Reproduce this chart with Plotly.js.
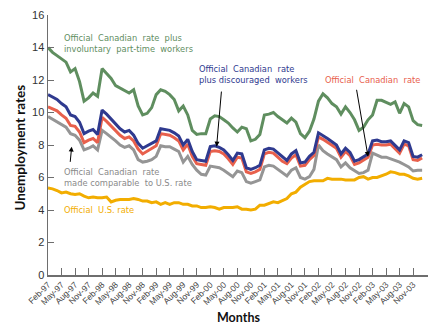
<!DOCTYPE html>
<html><head><meta charset="utf-8">
<script src="https://cdn.plot.ly/plotly-3.0.1.min.js"></script>
<style>html,body{margin:0;padding:0;background:#fff}#chart{width:436px;height:332px}</style>
</head><body><div id="chart"></div>
<script>
// Monthly categories Feb-97 .. Jan-04
var monNames = ["Jan","Feb","Mar","Apr","May","Jun","Jul","Aug","Sep","Oct","Nov","Dec"];
var months = [];
for (var k = 0; k < 84; k++) {
  var m = (1 + k) % 12, y = 97 + Math.floor((1 + k) / 12);
  months.push(monNames[m] + "-" + String(y % 100).padStart(2, "0"));
}
var tickLabels = ["Feb-97","May-97","Aug-97","Nov-97","Feb-98","May-98","Aug-98","Nov-98",
  "Feb-99","May-99","Aug-99","Nov-99","Feb-00","May-00","Aug-00","Nov-00",
  "Feb-01","May-01","Aug-01","Nov-01","Feb-02","May-02","Aug-02","Nov-02",
  "Feb-03","May-03","Aug-03","Nov-03"];

var involuntary = [14.0,13.7,13.5,13.3,13.1,12.5,12.7,11.9,10.7,10.9,11.2,11.0,
  12.7,12.4,12.1,11.65,11.5,11.4,11.2,11.4,10.4,9.85,9.95,10.3,
  11.1,11.4,11.3,11.1,10.8,10.1,10.4,9.85,8.9,8.65,8.7,8.7,
  9.6,9.8,9.75,9.55,9.35,9.05,8.8,9.1,9.0,8.25,8.35,8.65,
  9.85,9.9,10.0,9.75,9.55,9.35,9.65,9.4,8.7,8.45,8.85,9.6,
  10.7,11.15,10.9,10.55,10.35,9.9,10.35,10.0,9.55,8.9,9.1,9.55,
  9.85,10.75,10.75,10.6,10.5,10.65,9.95,10.55,10.35,9.5,9.25,9.2];

var discouraged = [11.1,10.95,10.8,10.55,10.35,9.85,9.75,9.4,8.7,8.85,8.95,8.65,
  10.15,9.9,9.6,9.3,9.0,8.8,8.9,8.6,8.1,7.8,7.95,8.1,
  8.25,9.0,8.95,8.9,8.75,8.55,8.0,8.35,7.6,7.1,7.05,7.0,
  7.9,7.95,7.85,7.7,7.4,7.05,7.5,7.45,6.6,6.5,6.6,6.75,
  7.7,7.8,7.75,7.5,7.25,7.05,7.45,7.65,6.9,6.95,7.3,7.55,
  8.75,8.6,8.4,8.2,8.0,7.45,7.8,7.55,7.0,7.1,7.3,7.45,
  8.25,8.3,8.2,8.2,8.25,8.0,7.7,8.25,8.15,7.3,7.25,7.4];

var official = [10.35,10.2,10.1,9.85,9.65,9.2,9.15,8.8,8.15,8.3,8.4,8.15,
  9.7,9.45,9.15,8.9,8.6,8.4,8.5,8.25,7.75,7.45,7.6,7.75,
  7.95,8.7,8.65,8.6,8.45,8.25,7.7,8.05,7.3,6.85,6.8,6.75,
  7.6,7.65,7.6,7.45,7.15,6.8,7.25,7.2,6.35,6.25,6.35,6.5,
  7.45,7.55,7.5,7.25,7.0,6.85,7.2,7.4,6.7,6.75,7.1,7.35,
  8.5,8.35,8.15,7.95,7.8,7.25,7.6,7.35,6.8,6.9,7.1,7.25,
  8.0,8.05,8.0,8.0,8.05,7.8,7.5,8.05,7.95,7.1,7.05,7.2];

var comparable = [9.75,9.6,9.45,9.3,9.1,8.7,8.6,8.3,7.7,7.8,7.95,7.7,
  8.9,8.7,8.5,8.25,8.0,7.85,7.95,7.7,7.1,6.95,7.0,7.1,
  7.3,7.95,7.9,7.9,7.75,7.6,6.95,7.3,6.8,6.45,6.2,6.15,
  6.7,6.65,6.6,6.45,6.25,6.05,6.4,6.3,5.75,5.65,5.75,5.85,
  6.65,6.75,6.7,6.5,6.25,6.1,6.45,6.6,6.0,5.9,6.05,6.5,
  8.0,7.65,7.45,7.3,7.1,6.65,6.9,6.6,6.4,6.25,6.3,6.45,
  7.5,7.35,7.25,7.25,7.15,7.05,6.95,6.8,6.65,6.4,6.45,6.45];

var usRate = [5.35,5.3,5.2,5.05,5.1,5.0,4.95,5.0,4.85,4.75,4.8,
  4.75,4.75,4.8,4.5,4.6,4.65,4.65,4.65,4.7,4.65,4.55,4.55,
  4.45,4.5,4.35,4.45,4.35,4.45,4.45,4.35,4.35,4.25,4.25,4.15,
  4.15,4.2,4.15,4.05,4.15,4.15,4.15,4.2,4.05,4.05,4.0,4.05,
  4.3,4.3,4.4,4.5,4.45,4.6,4.7,5.0,5.1,5.4,5.6,5.75,
  5.8,5.8,5.8,5.95,5.9,5.9,5.9,5.85,5.85,5.85,6.0,6.05,
  5.9,6.0,6.0,6.1,6.2,6.35,6.3,6.2,6.2,6.1,5.95,5.9,
  5.95];

var cGreen = "#5f8e5f", cBlue = "#2f3a8f", cRed = "#e8604c", cGray = "#959595", cOrange = "#f2ad00";

function tr(vals, color) {
  return {x: months, y: vals, type: "scatter", mode: "lines",
    line: {color: color, width: 3}, hoverinfo: "skip", showlegend: false};
}
var data = [tr(usRate, cOrange), tr(comparable, cGray), tr(official, cRed),
            tr(discouraged, cBlue), tr(involuntary, cGreen)];

var af = "DejaVu Sans";
function txt(x, y, t, color) {
  return {x: x, y: y, xref: "x", yref: "y", text: t, showarrow: false, xanchor: "left",
    yanchor: "middle", align: "left", font: {family: af, size: 8.3, color: color}};
}
function arr(x, y, ax, ay) {
  return {x: x, y: y, ax: ax, ay: ay, xref: "x", yref: "y", axref: "x", ayref: "y",
    text: "", showarrow: true, arrowhead: 2, arrowsize: 1, arrowwidth: 1, arrowcolor: "#000"};
}
var annotations = [
  txt(3.1, 14.25, "Official  Canadian  rate  plus<br>involuntary  part-time  workers", cGreen),
  txt(33.0, 12.33, "Official  Canadian  rate<br>plus discouraged  workers", cBlue),
  txt(61.0, 12.0, "Official  Canadian  rate", cRed),
  txt(3.1, 6.03, "Official  Canadian  rate<br>made comparable  to U.S. rate", "#8a8a8a"),
  txt(3.1, 4.0, "Official  U.S. rate", cOrange),
  arr(37.4, 7.9, 38.5, 11.38),
  arr(71.0, 7.28, 68.4, 11.49),
  arr(5.25, 7.9, 4.9, 6.87),
  {xref: "paper", yref: "paper", x: -0.1, y: 0.49, textangle: -90, showarrow: false,
   text: "<b>Unemployment rates</b>", font: {family: "Lato", size: 13.5, color: "#111"}},
  {xref: "paper", yref: "paper", x: 0.5, y: -0.2, showarrow: false,
   text: "<b>Months</b>", font: {family: "Lato", size: 12.5, color: "#111"}}
];

var layout = {
  width: 436, height: 332,
  margin: {l: 48, r: 8, t: 15, b: 57, pad: 0},
  paper_bgcolor: "#fff", plot_bgcolor: "#fff",
  xaxis: {type: "category", range: [0, 84.3], showgrid: false, zeroline: false,
    showline: true, linecolor: "#6e6e6e", linewidth: 1.5,
    ticks: "inside", ticklen: 7, tickcolor: "#6e6e6e", tickwidth: 1,
    tickmode: "array", tickvals: tickLabels, ticktext: tickLabels, tickangle: -45,
    tickfont: {family: "Liberation Sans", size: 8.5, color: "#444"}},
  yaxis: {range: [0, 16], dtick: 2, showgrid: false, zeroline: false,
    showline: true, linecolor: "#6e6e6e", linewidth: 1.5,
    ticks: "inside", ticklen: 6, tickcolor: "#6e6e6e", tickwidth: 1,
    tickfont: {family: "Liberation Sans", size: 11, color: "#333"}},
  annotations: annotations
};
Plotly.newPlot("chart", data, layout, {displayModeBar: false, staticPlot: true});
</script></body></html>
